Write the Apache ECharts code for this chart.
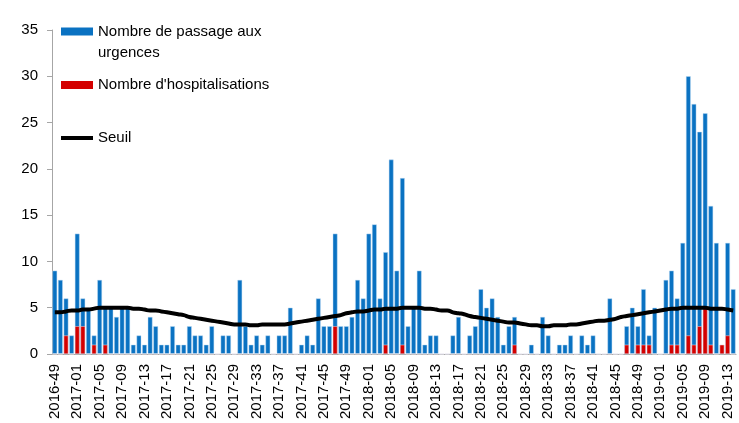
<!DOCTYPE html>
<html>
<head>
<meta charset="utf-8">
<script src="https://cdn.jsdelivr.net/npm/echarts@6/dist/echarts.min.js"></script>
<style>
  html, body { margin: 0; padding: 0; background: #fff; }
  #chart { width: 739px; height: 423px; }
</style>
</head>
<body>
<div id="chart"></div>
<script>
// semaines (année-semaine)
var semaines = [
  '2016-49','2016-50','2016-51','2016-52',
  '2017-01','2017-02','2017-03','2017-04','2017-05','2017-06','2017-07','2017-08','2017-09','2017-10',
  '2017-11','2017-12','2017-13','2017-14','2017-15','2017-16','2017-17','2017-18','2017-19','2017-20',
  '2017-21','2017-22','2017-23','2017-24','2017-25','2017-26','2017-27','2017-28','2017-29','2017-30',
  '2017-31','2017-32','2017-33','2017-34','2017-35','2017-36','2017-37','2017-38','2017-39','2017-40',
  '2017-41','2017-42','2017-43','2017-44','2017-45','2017-46','2017-47','2017-48','2017-49','2017-50',
  '2017-51','2017-52',
  '2018-01','2018-02','2018-03','2018-04','2018-05','2018-06','2018-07','2018-08','2018-09','2018-10',
  '2018-11','2018-12','2018-13','2018-14','2018-15','2018-16','2018-17','2018-18','2018-19','2018-20',
  '2018-21','2018-22','2018-23','2018-24','2018-25','2018-26','2018-27','2018-28','2018-29','2018-30',
  '2018-31','2018-32','2018-33','2018-34','2018-35','2018-36','2018-37','2018-38','2018-39','2018-40',
  '2018-41','2018-42','2018-43','2018-44','2018-45','2018-46','2018-47','2018-48','2018-49','2018-50',
  '2018-51','2018-52',
  '2019-01','2019-02','2019-03','2019-04','2019-05','2019-06','2019-07','2019-08','2019-09','2019-10',
  '2019-11','2019-12','2019-13','2019-14'
];

var passages = [
  9, 8, 6, 2, 13, 6, 5, 2, 8, 5,
  5, 4, 5, 5, 1, 2, 1, 4, 3, 1,
  1, 3, 1, 1, 3, 2, 2, 1, 3, 0,
  2, 2, 0, 8, 3, 1, 2, 1, 2, 0,
  2, 2, 5, 0, 1, 2, 1, 6, 3, 3,
  13, 3, 3, 4, 8, 6, 13, 14, 6, 11,
  21, 9, 19, 3, 5, 9, 1, 2, 2, 0,
  0, 2, 4, 0, 2, 3, 7, 5, 6, 4,
  1, 3, 4, 0, 0, 1, 0, 4, 2, 0,
  1, 1, 2, 0, 2, 1, 2, 0, 0, 6,
  0, 0, 3, 5, 3, 7, 2, 5, 0, 8,
  9, 6, 12, 30, 27, 24, 26, 16, 12, 1, 12, 7
];

var hospitalisations = [
  0, 0, 2, 0, 3, 3, 0, 1, 0, 1,
  0, 0, 0, 0, 0, 0, 0, 0, 0, 0,
  0, 0, 0, 0, 0, 0, 0, 0, 0, 0,
  0, 0, 0, 0, 0, 0, 0, 0, 0, 0,
  0, 0, 0, 0, 0, 0, 0, 0, 0, 0,
  3, 0, 0, 0, 0, 0, 0, 0, 0, 1,
  0, 0, 1, 0, 0, 0, 0, 0, 0, 0,
  0, 0, 0, 0, 0, 0, 0, 0, 0, 0,
  0, 0, 1, 0, 0, 0, 0, 0, 0, 0,
  0, 0, 0, 0, 0, 0, 0, 0, 0, 0,
  0, 0, 1, 0, 1, 1, 1, 0, 0, 0,
  1, 1, 0, 2, 1, 3, 5, 1, 0, 1, 2, 0
];

var seuil = [
  4.5, 4.5, 4.6, 4.7, 4.7, 4.8, 4.8, 4.9, 5.0, 5.0,
  5.0, 5.0, 5.0, 5.0, 4.9, 4.9, 4.8, 4.7, 4.7, 4.6,
  4.5, 4.4, 4.3, 4.2, 4.0, 3.9, 3.8, 3.7, 3.6, 3.5,
  3.4, 3.3, 3.2, 3.2, 3.2, 3.1, 3.1, 3.2, 3.2, 3.2,
  3.2, 3.2, 3.3, 3.4, 3.5, 3.6, 3.7, 3.8, 3.9, 4.0,
  4.1, 4.2, 4.4, 4.5, 4.6, 4.6, 4.7, 4.8, 4.8, 4.9,
  4.9, 4.9, 5.0, 5.0, 5.0, 5.0, 4.9, 4.9, 4.8, 4.7,
  4.7, 4.5, 4.4, 4.3, 4.1, 4.0, 3.9, 3.8, 3.7, 3.6,
  3.5, 3.4, 3.4, 3.3, 3.2, 3.1, 3.1, 3.0, 3.0, 3.1,
  3.1, 3.1, 3.2, 3.2, 3.3, 3.4, 3.5, 3.6, 3.6, 3.7,
  3.8, 4.0, 4.1, 4.2, 4.3, 4.4, 4.5, 4.6, 4.7, 4.8,
  4.9, 4.9, 5.0, 5.0, 5.0, 5.0, 5.0, 4.9, 4.9, 4.9, 4.8, 4.7
];

var nomPassages = 'Nombre de passage aux urgences';
var nomHospit = "Nombre d'hospitalisations";
var nomSeuil = 'Seuil';

var police = '"Liberation Sans", Arial, sans-serif';
var gris = '#a6a6a6';

var option = {
  animation: false,
  textStyle: { fontFamily: police },
  grid: { left: 52, right: 3, top: 30, bottom: 69 },
  legend: [
    {
      // ligne vide en tête pour aligner la 1re ligne sur le carré
      data: [nomPassages], left: 61, top: 0, padding: 0,
      icon: 'rect', itemWidth: 32, itemHeight: 8,
      itemStyle: { borderWidth: 0 },
      formatter: function () { return '\nNombre de passage aux\nurgences'; },
      textStyle: { fontSize: 15, color: '#000', lineHeight: 21 }
    },
    {
      data: [nomHospit], left: 61, top: 76, padding: 0,
      icon: 'rect', itemWidth: 32, itemHeight: 8,
      itemStyle: { borderWidth: 0 },
      textStyle: { fontSize: 15, color: '#000', lineHeight: 18 }
    },
    {
      data: [nomSeuil], left: 61, top: 129, padding: 0,
      icon: 'rect', itemWidth: 32, itemHeight: 4,
      itemStyle: { borderWidth: 0 },
      textStyle: { fontSize: 15, color: '#000', lineHeight: 18 }
    }
  ],
  xAxis: {
    type: 'category',
    data: semaines,
    axisLine: { lineStyle: { color: gris } },
    axisTick: { interval: 0, length: 5, lineStyle: { color: gris } },
    axisLabel: { interval: 3, rotate: 90, fontSize: 15, color: '#000', margin: 10 }
  },
  yAxis: {
    type: 'value',
    min: 0, max: 35, interval: 5,
    splitLine: { show: false },
    axisLine: { show: true, lineStyle: { color: gris } },
    axisTick: { show: true, length: 5, lineStyle: { color: gris } },
    axisLabel: { fontSize: 15, color: '#000', margin: 14 }
  },
  series: [
    {
      name: nomPassages, type: 'bar', data: passages,
      barCategoryGap: '16%',
      itemStyle: { color: '#0a72c2', borderColor: 'rgba(190,220,245,0.9)', borderWidth: 0.5 }
    },
    {
      name: nomHospit, type: 'bar', data: hospitalisations,
      barGap: '-100%',
      itemStyle: { color: '#d40000', borderColor: 'rgba(255,235,235,0.9)', borderWidth: 0.5 }
    },
    {
      name: nomSeuil, type: 'line', data: seuil,
      symbol: 'none', smooth: true,
      lineStyle: { color: '#000', width: 4 },
      itemStyle: { color: '#000' }
    }
  ]
};

var myChart = echarts.init(document.getElementById('chart'));
myChart.setOption(option);
</script>
</body>
</html>
